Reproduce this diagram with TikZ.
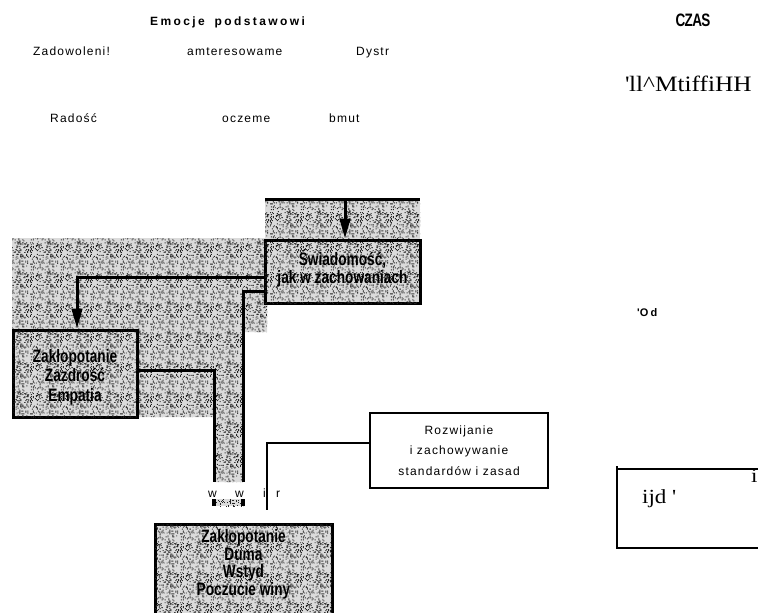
\documentclass[tikz,border=0pt]{standalone}
\usepackage{fontspec}
\setmainfont{Liberation Sans}
\newfontfamily\spacedfont[LetterSpace=10]{Liberation Sans}
\newfontfamily\headfont[LetterSpace=20]{Liberation Sans}
\newfontfamily\boxfont[FakeStretch=0.76]{Liberation Sans}
\newfontfamily\czasfont[FakeStretch=0.75,LetterSpace=-4]{Liberation Sans}
\newfontfamily\oldserif[FakeStretch=1.15]{Liberation Serif}
\usetikzlibrary{arrows.meta,patterns}

% grainy halftone tile: random single dots
\pgfmathsetseed{1893}
\pgfdeclarepatternformonly{grain}{\pgfpointorigin}{\pgfpoint{30pt}{30pt}}{\pgfpoint{30pt}{30pt}}{%
  \foreach \k in {1,...,215}{%
    \pgfmathrandominteger{\rx}{0}{29}%
    \pgfmathrandominteger{\ry}{0}{29}%
    \pgfpathrectangle{\pgfpoint{\rx pt}{\ry pt}}{\pgfpoint{1pt}{1pt}}%
    \pgfusepath{fill}%
  }%
}

\begin{document}
\begin{tikzpicture}[x=1pt,y=-1pt,
  thickline/.style={line width=3pt},
  thinline/.style={line width=1.1pt},
  bigtip/.style={-{Triangle[length=20pt,width=10.5pt]}},
  grainfill/.style={fill=black!14,postaction={pattern=grain,pattern color=black!85}},
  grainbox/.style={draw,line width=3pt,grainfill,inner sep=0pt,align=center},
  boxtext/.style={font=\boxfont\bfseries\fontsize{18}{#1}\selectfont},
  lbl/.style={inner sep=0pt,anchor=base west,font=\spacedfont\fontsize{12}{14}\selectfont},
  serif/.style={inner sep=0pt,anchor=base west,font=\oldserif\fontsize{22}{24}\selectfont},
]
\clip (0,0) rectangle (758,613);

% shaded backgrounds
\fill[grainfill] (265,199) rectangle (420,240);
\fill[grainfill] (12,238) -- (267,238) -- (267,332) -- (243,332) -- (243,482)
  -- (214,482) -- (214,417) -- (137,417) -- (137,330) -- (12,330) -- cycle;
\fill[grainfill] (214,499) rectangle (243,506);

% boxes
\node[grainbox,boxtext=18pt,minimum width=155pt,minimum height=63pt,text height=23pt,text depth=0pt] (swiad) at (342.5,271.5)
  {Świadomość,\\jak w zachowaniach};
\node[grainbox,boxtext=19.5pt,minimum width=124pt,minimum height=87pt,text height=55pt,text depth=0pt] (zak1) at (75,373.5)
  {Zakłopotanie\\Zazdrość\\Empatia};
\node[grainbox,boxtext=17.5pt,minimum width=177pt,anchor=north,inner ysep=5pt,text depth=22pt] (zak2) at (243.5,523)
  {Zakłopotanie\\Duma\\Wstyd\\Poczucie winy};
\node[draw,thinline,minimum width=178pt,minimum height=75pt,align=center,inner sep=0pt,
  font=\spacedfont\fontsize{12}{20.5}\selectfont] (rozw) at (459,450.5)
  {Rozwijanie\\i zachowywanie\\standardów i zasad};

% connectors
\coordinate (bandL) at (265,199);
\coordinate (bandR) at (420,199);
\coordinate (feed) at (345,199);
\coordinate (dropR) at (243,482);
\coordinate (dropL) at (214,482);
\coordinate (capLt) at (214,499);
\coordinate (capLb) at (214,506);
\coordinate (capRt) at (243,499);
\coordinate (capRb) at (243,506);
\coordinate (stem) at (267,510);

\draw[thickline] (bandL) -- (bandR);
\draw[thickline,bigtip] (feed) -- (feed |- swiad.north);
\draw[thickline,bigtip] ([yshift=-5.5pt]swiad.west) -| ([xshift=2pt]zak1.north);
\draw[thickline] ([yshift=-19.5pt]swiad.west) -| (dropR);
\draw[thickline] ([yshift=3.5pt]zak1.east) -| (dropL);
\draw[line width=4pt] (capLt) -- (capLb);
\draw[line width=4pt] (capRt) -- (capRb);
\draw[thinline] ([yshift=7.5pt]rozw.west) -| (stem);

% right-hand frame
\coordinate (frA) at (765,469);
\coordinate (frB) at (617,469);
\coordinate (frT) at (617,466);
\coordinate (frC) at (617,548);
\coordinate (frD) at (765,548);
\draw[thinline] (frA) -- (frB);
\draw[thinline] (frT) -- (frC) -- (frD);

% labels
\node[inner sep=0pt,anchor=base west,font=\headfont\bfseries\fontsize{12}{14}\selectfont] (head) at (150,25)
  {Emocje\hspace{4pt} podstawowi};
\node[lbl] (zad) at (33,55) {Zadowoleni!};
\node[lbl] (zai) at (187,55) {amteresowame};
\node[lbl] (dys) at (356,55) {Dystr};
\node[lbl] (rad) at (50,122) {Radość};
\node[lbl] (ocz) at (222,122) {oczeme};
\node[lbl] (bmu) at (329,122) {bmut};

\node[inner sep=0pt,anchor=base,font=\czasfont\bfseries\fontsize{18}{20}\selectfont] (czas) at (693,27) {CZAS};
\node[serif] (scr) at (625,91) {\textquotesingle ll\textasciicircum MtiffiHH};
\node[lbl,font=\headfont\bfseries\fontsize{11}{13}\selectfont] (od) at (637,316) {\textquotesingle Od};

\node[lbl] (w1) at (208,497) {w};
\node[lbl] (w2) at (235,497) {w};
\node[lbl] (ii) at (263,497) {i};
\node[lbl] (rr) at (276,497) {r};

\node[serif,font=\oldserif\fontsize{20}{22}\selectfont] (ijd) at (642,503) {ijd \textquotesingle};
\node[serif,font=\oldserif\fontsize{20}{22}\selectfont] (iref) at (751,482) {i};
\end{tikzpicture}
\end{document}
